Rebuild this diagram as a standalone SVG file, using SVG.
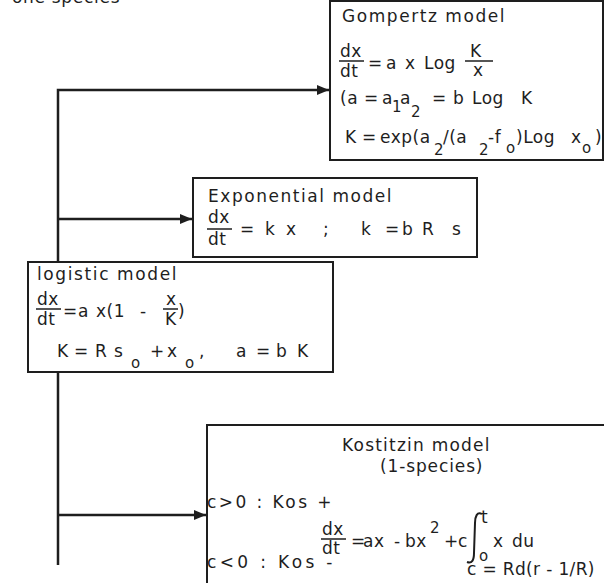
<svg xmlns="http://www.w3.org/2000/svg" width="604" height="583" viewBox="0 0 604 583">
<style>
text{font-family:"DejaVu Sans","Liberation Sans",sans-serif;font-size:17px;fill:#1e1e1e;letter-spacing:0.5px}
.sub{font-size:15px;letter-spacing:0}
.box{fill:#fff;stroke:#1e1e1e;stroke-width:2}
.bar{stroke:#1e1e1e;stroke-width:1.5}
.con{fill:none;stroke:#1e1e1e;stroke-width:2.5}
</style>
<defs>
<marker id="ah" viewBox="0 0 12 10" refX="12" refY="5" markerWidth="12" markerHeight="10" markerUnits="userSpaceOnUse" orient="auto">
<path d="M0,0 L12,5 L0,10 Z" fill="#1e1e1e"/>
</marker>
</defs>
<rect width="604" height="583" fill="#fff"/>
<text x="12" y="3" textLength="108">one species</text>
<g id="connectors">
<path class="con" d="M58,565 V90 H329" marker-end="url(#ah)"/>
<path class="con" d="M58,219 H192" marker-end="url(#ah)"/>
<path class="con" d="M58,515 H206" marker-end="url(#ah)"/>
</g>
<g id="gompertz">
<rect class="box" x="330" y="1" width="273" height="159"/>
<text x="342" y="22" textLength="163">Gompertz model</text>
<text x="340" y="57">dx</text><line class="bar" x1="339" y1="61" x2="364" y2="61"/><text x="340" y="77">dt</text>
<text y="69"><tspan x="368">=</tspan><tspan x="386">a</tspan><tspan x="405">x</tspan><tspan x="424">Log</tspan></text>
<text x="470" y="57">K</text><line class="bar" x1="465" y1="61" x2="493" y2="61"/><text x="473" y="76">x</text>
<text y="104"><tspan x="340">(a</tspan><tspan x="364">=</tspan><tspan x="382">a</tspan><tspan class="sub" x="392" y="112">1</tspan><tspan x="400" y="104">a</tspan><tspan class="sub" x="411" y="117">2</tspan><tspan x="432" y="104">=</tspan><tspan x="453">b</tspan><tspan x="472">Log</tspan><tspan x="521">K</tspan></text>
<text y="143"><tspan x="345">K</tspan><tspan x="362">=</tspan><tspan x="380">exp(a</tspan><tspan class="sub" x="434" y="155">2</tspan><tspan x="443" y="143">/(a</tspan><tspan class="sub" x="479" y="155">2</tspan><tspan x="488" y="143">-f</tspan><tspan class="sub" x="506" y="153">o</tspan><tspan x="516" y="143">)Log</tspan><tspan x="571">x</tspan><tspan class="sub" x="582" y="153">o</tspan><tspan x="595" y="143">)</tspan></text>
</g>
<g id="exponential">
<rect class="box" x="193" y="178" width="284" height="79"/>
<text x="208" y="202" textLength="184">Exponential model</text>
<text x="208" y="223">dx</text><line class="bar" x1="207" y1="229" x2="232" y2="229"/><text x="208" y="245">dt</text>
<text y="235"><tspan x="240">=</tspan><tspan x="265">k</tspan><tspan x="286">x</tspan><tspan x="323">;</tspan><tspan x="361">k</tspan><tspan x="385">=</tspan><tspan x="402">b</tspan><tspan x="422">R</tspan><tspan x="452">s</tspan></text>
</g>
<g id="logistic">
<rect class="box" x="28" y="262" width="305" height="110"/>
<text x="37" y="280" textLength="140">logistic model</text>
<text x="37" y="305">dx</text><line class="bar" x1="36" y1="309" x2="61" y2="309"/><text x="37" y="325">dt</text>
<text y="317"><tspan x="63">=</tspan><tspan x="78">a</tspan><tspan x="96">x(1</tspan><tspan x="140">-</tspan></text>
<text x="166" y="305">x</text><line class="bar" x1="163" y1="309" x2="178" y2="309"/><text x="165" y="325">K</text>
<text x="178" y="317">)</text>
<text y="357"><tspan x="57">K</tspan><tspan x="74">=</tspan><tspan x="95">R</tspan><tspan x="114">s</tspan><tspan class="sub" x="131" y="368">o</tspan><tspan x="150" y="357">+</tspan><tspan x="167">x</tspan><tspan class="sub" x="185" y="368">o</tspan><tspan x="199" y="357">,</tspan><tspan x="236">a</tspan><tspan x="256">=</tspan><tspan x="276">b</tspan><tspan x="297">K</tspan></text>
</g>
<g id="kostitzin">
<rect class="box" x="207" y="425" width="420" height="200"/>
<text x="342" y="451" textLength="148">Kostitzin model</text>
<text x="380" y="472" textLength="103">(1-species)</text>
<text x="207" y="508" textLength="125">c&gt;0 : Kos +</text>
<text x="207" y="568" textLength="126">c&lt;0 : Kos -</text>
<text x="322" y="535">dx</text><line class="bar" x1="321" y1="539" x2="346" y2="539"/><text x="322" y="554">dt</text>
<text y="547"><tspan x="351">=</tspan><tspan x="363">ax</tspan><tspan x="394">-</tspan><tspan x="405">bx</tspan><tspan class="sub" x="430" y="533">2</tspan><tspan x="444" y="547">+</tspan><tspan x="458">c</tspan></text>
<path d="M482,514 C477,511 475,517 475,523 L474,553 C474,560 472,564 467,562" fill="none" stroke="#1e1e1e" stroke-width="2"/>
<text x="481" y="523">t</text>
<text class="sub" x="479" y="561">o</text>
<text y="547"><tspan x="493">x</tspan><tspan x="512">du</tspan></text>
<text x="467" y="575" textLength="128">c = Rd(r - 1/R)</text>
</g>
</svg>
